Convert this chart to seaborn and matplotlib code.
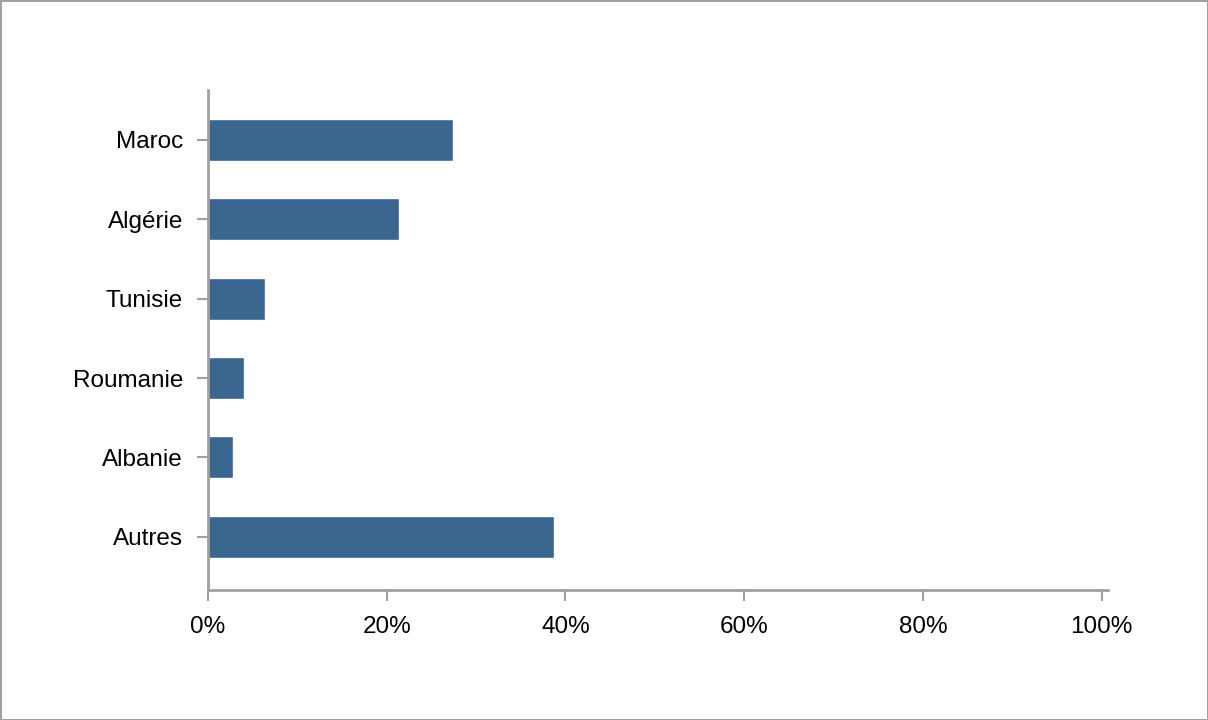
import matplotlib
matplotlib.use("Agg")
import matplotlib.pyplot as plt
import seaborn as sns
import pandas as pd
from matplotlib.ticker import PercentFormatter

# données
pays = ["Maroc", "Algérie", "Tunisie", "Roumanie", "Albanie", "Autres"]
parts = [27.4, 21.4, 6.4, 4.0, 2.8, 38.7]

df = pd.DataFrame({"pays": pays, "part": parts})

sns.set_style("white")
plt.rcParams["font.family"] = ["Liberation Sans", "DejaVu Sans"]

fig = plt.figure(figsize=(12.08, 7.2), dpi=100)
fig.patch.set_edgecolor("#a0a0a0")
fig.patch.set_linewidth(2)
ax = fig.add_axes([208 / 1208, 130 / 720, 900 / 1208, 500 / 720])

sns.barplot(data=df, x="part", y="pays", orient="h", color="#3a668f",
            saturation=1, width=0.53, ax=ax)

ax.set_xlim(0, 100.7)
ax.set_ylim(5.67, -0.63)
ax.xaxis.set_major_formatter(PercentFormatter(decimals=0))
ax.set_xticks([0, 20, 40, 60, 80, 100])
ax.set_xlabel("")
ax.set_ylabel("")
for s in ["top", "right"]:
    ax.spines[s].set_visible(False)
for s in ["left", "bottom"]:
    ax.spines[s].set_color("#a0a0a0")
    ax.spines[s].set_linewidth(2)
ax.tick_params(axis="both", length=8, width=1.5, color="#a0a0a0",
               labelsize=17.5, labelcolor="black", direction="out",
               bottom=True, left=True)
ax.tick_params(axis="x", pad=11)
ax.tick_params(axis="y", pad=10)

plt.savefig("out.png", dpi=100, edgecolor=fig.get_edgecolor())
